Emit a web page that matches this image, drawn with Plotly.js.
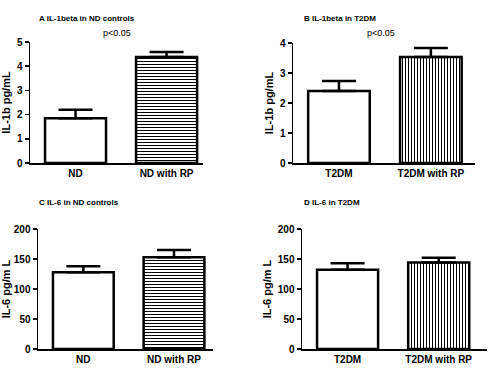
<!DOCTYPE html>
<html><head><meta charset="utf-8">
<script src="https://cdn.plot.ly/plotly-3.0.1.min.js"></script>
<style>html,body{margin:0;padding:0;background:#fff}#c{width:490px;height:369px}</style>
</head><body><div id="c"></div>
<script>
const catsA = ["ND", "ND with RP"];
const valsA = [1.85, 4.38];
const errA = [0.35, 0.21];
const catsB = ["T2DM", "T2DM with RP"];
const valsB = [2.4, 3.53];
const errB = [0.33, 0.3];
const catsC = ["ND", "ND with RP"];
const valsC = [128, 153];
const errC = [10, 12];
const catsD = ["T2DM", "T2DM with RP"];
const valsD = [132, 144];
const errD = [11, 8];
const titles = ["A IL-1beta in ND controls", "B IL-1beta in T2DM", "C IL-6 in ND controls", "D IL-6 in T2DM"];
const yTitles = ["IL-1b pg/mL", "IL-1b pg/mL", "IL-6 pg/m L", "IL-6 pg/m L"];

const W = 490, H = 369;
const panels = [
  {cats: catsA, vals: valsA, err: errA, shape: "-", x0: 30, x1: 203, yt: 42, yb: 163, yr: [0, 5], dt: 1, xr: [-0.5, 1.4]},
  {cats: catsB, vals: valsB, err: errB, shape: "|", x0: 293, x1: 475, yt: 43, yb: 163, yr: [0, 4], dt: 1, xr: [-0.5, 1.48]},
  {cats: catsC, vals: valsC, err: errC, shape: "-", x0: 38, x1: 213, yt: 229, yb: 349, yr: [0, 200], dt: 50, xr: [-0.5, 1.43]},
  {cats: catsD, vals: valsD, err: errD, shape: "|", x0: 302, x1: 487, yt: 229, yb: 349, yr: [0, 200], dt: 50, xr: [-0.5, 1.53]}
];
const font = {family: "Liberation Sans, Arial, sans-serif", color: "#000"};
const data = [];
const layout = {width: W, height: H, margin: {l: 0, r: 0, t: 0, b: 0}, showlegend: false, barmode: "overlay",
  paper_bgcolor: "#fff", plot_bgcolor: "#fff", font: font, annotations: []};
panels.forEach((p, i) => {
  const n = i === 0 ? "" : String(i + 1);
  [0, 1].forEach(k => {
    const m = {color: "#fff", line: {color: "#000", width: 2.5}};
    if (k === 1) m.pattern = {shape: p.shape, fgcolor: "#000", bgcolor: "#fff", size: 3, solidity: 0.34, fillmode: "replace"};
    data.push({type: "bar", x: [p.cats[k]], y: [p.vals[k]], xaxis: "x" + n, yaxis: "y" + n, width: 0.67, marker: m,
      error_y: {type: "data", symmetric: false, array: [p.err[k]], arrayminus: [0], color: "#000", thickness: 2.5, width: 17},
      hoverinfo: "skip"});
  });
  layout["xaxis" + n] = {domain: [p.x0 / W, p.x1 / W], anchor: "y" + n, range: p.xr, type: "category", categoryarray: p.cats,
    showline: true, linecolor: "#000", linewidth: 1.5,
    ticks: "", showgrid: false, zeroline: false, tickfont: {size: 10, family: font.family, weight: "bold"}, fixedrange: true};
  layout["yaxis" + n] = {domain: [(H - p.yb) / H, (H - p.yt) / H], anchor: "x" + n, range: p.yr, dtick: p.dt, showline: true,
    linecolor: "#000", linewidth: 1.5, ticks: "outside", ticklen: 4, tickwidth: 1.5, tickcolor: "#000", showgrid: false, zeroline: false,
    tickfont: {size: 10, family: font.family, weight: "bold"},
    title: {text: yTitles[i], font: {size: 11, family: font.family, weight: "bold"}, standoff: 4}, fixedrange: true};
  const tx = [37, 302, 37, 302][i], ty = [19, 19, 202, 202][i];
  layout.annotations.push({xref: "paper", yref: "paper", x: tx / W, y: 1 - ty / H, xanchor: "left", yanchor: "middle",
    text: titles[i], showarrow: false, font: {size: 8, family: font.family, weight: "bold"}});
});
layout.annotations.push({xref: "paper", yref: "paper", x: 117 / W, y: 1 - 33 / H, xanchor: "center", yanchor: "middle",
  text: "p<0.05", showarrow: false, font: {size: 9, family: font.family}});
layout.annotations.push({xref: "paper", yref: "paper", x: 381 / W, y: 1 - 33 / H, xanchor: "center", yanchor: "middle",
  text: "p<0.05", showarrow: false, font: {size: 9, family: font.family}});
Plotly.newPlot("c", data, layout, {staticPlot: true});
</script></body></html>
